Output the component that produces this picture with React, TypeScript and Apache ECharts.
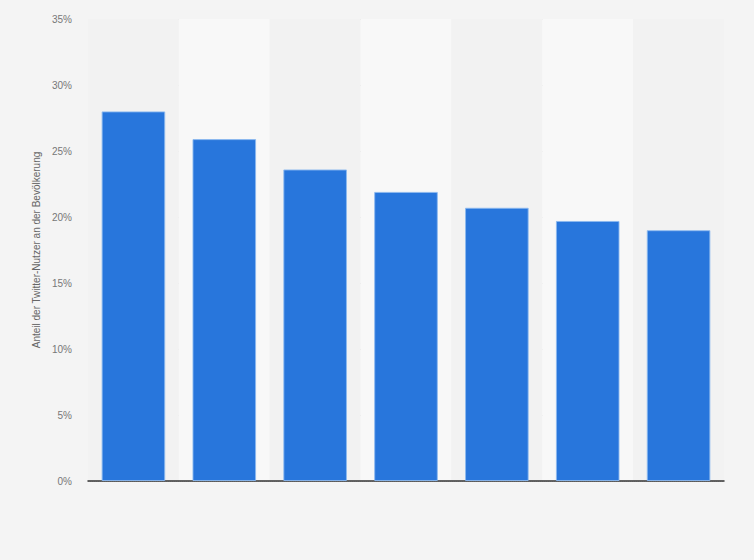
import { useEffect, useRef } from 'react';
import * as echarts from 'echarts';

// x labels are not shown in the reference, so the categories are just placeholders
const categories = ['A', 'B', 'C', 'D', 'E', 'F', 'G'];
const values = [28.0, 25.9, 23.6, 21.9, 20.7, 19.7, 19.0];
const yTicks = [0, 5, 10, 15, 20, 25, 30, 35];

export default function App() {
  const chartRef = useRef<HTMLDivElement>(null);

  useEffect(() => {
    if (!chartRef.current) return;
    document.body.style.margin = '0';

    const chart = echarts.init(chartRef.current, null, { renderer: 'svg' });

    const option: echarts.EChartsOption = {
      animation: false,
      backgroundColor: '#f4f4f4',
      grid: { left: 88, right: 30, top: 19, bottom: 79 },
      xAxis: {
        type: 'category',
        data: categories,
        axisTick: { show: false },
        axisLabel: { show: false },
        axisLine: { lineStyle: { color: '#333', width: 1.5 } },
        splitArea: {
          show: true,
          areaStyle: { color: ['#f2f2f2', '#f8f8f8'] },
        },
      },
      yAxis: {
        type: 'value',
        min: yTicks[0],
        max: yTicks[yTicks.length - 1],
        interval: 5,
        name: 'Anteil der Twitter-Nutzer an der Bevölkerung',
        nameLocation: 'middle',
        nameGap: 44,
        nameTextStyle: { color: '#666', fontSize: 10, fontFamily: 'Liberation Sans, Arial, sans-serif' },
        axisLine: { show: false },
        axisTick: { show: false },
        axisLabel: {
          formatter: '{value}%',
          color: '#777',
          fontSize: 10,
          margin: 16,
          fontFamily: 'Liberation Sans, Arial, sans-serif',
        },
        splitLine: { lineStyle: { color: '#d2d2d2', type: 'dotted', width: 1 } },
      },
      series: [
        {
          type: 'bar',
          data: values,
          barCategoryGap: '30%',
          itemStyle: {
            color: '#2876dc',
            borderColor: 'rgba(140,185,240,0.9)',
            borderWidth: 1,
          },
        },
      ],
    };

    chart.setOption(option);

    return () => {
      chart.dispose();
    };
  }, []);

  return <div ref={chartRef} style={{ width: '754px', height: '560px' }}></div>;
}
